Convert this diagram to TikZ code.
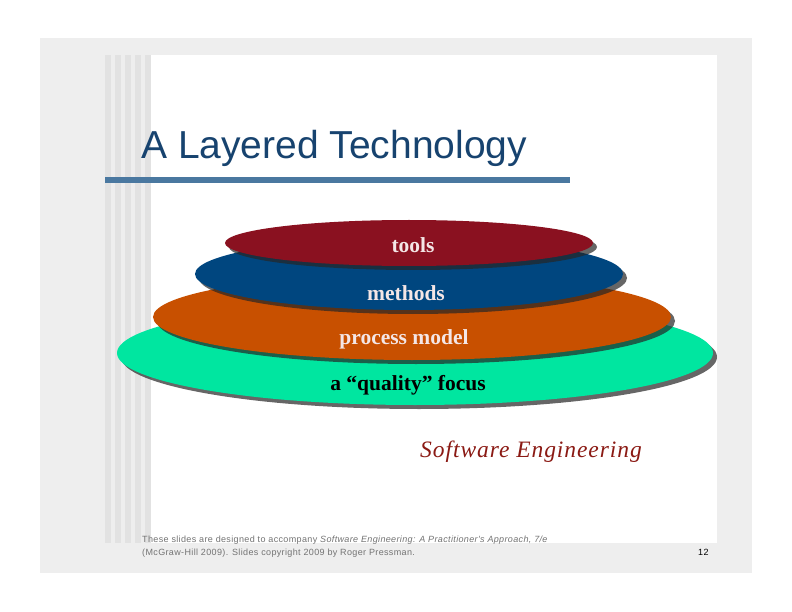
\documentclass[tikz,border=0pt]{standalone}
\usepackage{fontspec}
\usepackage{xcolor}
\usepackage{tikz}
\usetikzlibrary{shadows}
\newfontfamily\slidesans{Liberation Sans}
\newfontfamily\slideserif{Liberation Serif}
\newfontfamily\footsans[LetterSpace=4]{Liberation Sans}
\newfontfamily\wideserif[LetterSpace=4]{Liberation Serif}

\definecolor{pagegray}{HTML}{EEEEEE}
\definecolor{stripegray}{HTML}{E2E2E2}
\definecolor{titleblue}{HTML}{17436F}
\definecolor{barblue}{HTML}{4A78A0}
\definecolor{toolsred}{HTML}{8A1120}
\definecolor{methodsblue}{HTML}{00467F}
\definecolor{processorange}{HTML}{C85000}
\definecolor{qualitygreen}{HTML}{00E6A0}
\definecolor{seword}{HTML}{8B1A14}
\definecolor{labelwhite}{HTML}{F4E6E6}

\begin{document}
\begin{tikzpicture}[x=1pt, y=-1pt,
    layer/.style={drop shadow={shadow xshift=4pt, shadow yshift=-4pt, opacity=.7, fill=black!85}},
    layerlabel/.style={font=\slideserif\bfseries\fontsize{21.5}{23}\selectfont, text=labelwhite, inner sep=0pt},
    footnote/.style={font=\footsans\fontsize{9}{10}\selectfont, text=black!55, anchor=base west, inner sep=0pt}]
    \useasboundingbox (0,0) rectangle (792,612);
    \fill[white] (0,0) rectangle (792,612);
    \fill[pagegray] (40,38) rectangle (752,573);
    \foreach \x in {105,115,125,135,145}
        \fill[stripegray] (\x,55) rectangle ++(6,488);
    \fill[white] (151,55) rectangle (717,543);

    % title and rule
    \node[anchor=base west, inner sep=0pt, text=titleblue, font=\slidesans\fontsize{39}{41}\selectfont] (title) at (141,159) {A Layered Technology};
    \fill[barblue] (105,177) rectangle (570,183);

    % the four layers, bottom first
    \fill[qualitygreen, layer] (415,353) ellipse [x radius=298, y radius=52];
    \fill[processorange, layer] (412,317) ellipse [x radius=259, y radius=43];
    \fill[methodsblue, layer] (409,274) ellipse [x radius=214, y radius=36];
    \fill[toolsred, layer] (409,243) ellipse [x radius=184, y radius=23];

    \node[layerlabel] (tools) at (413,245) {tools};
    \node[layerlabel] (methods) at (406,293) {methods};
    \node[layerlabel] (process) at (404,339) {process model};
    \node[layerlabel, text=black] (quality) at (408,385) {a “quality” focus};

    \node[anchor=base west, inner sep=0pt, text=seword, font=\wideserif\itshape\fontsize{23.5}{25}\selectfont] (se) at (420,457) {Software Engineering};

    % footer
    \node[footnote] (foot1) at (142,542) {These slides are designed to accompany \textit{Software Engineering: A Practitioner's Approach, 7/e}};
    \node[footnote] (foot2) at (142,555) {(McGraw-Hill 2009). Slides copyright 2009 by Roger Pressman.};
    \node[footnote, text=black] (pageno) at (698,555) {12};
\end{tikzpicture}
\end{document}
